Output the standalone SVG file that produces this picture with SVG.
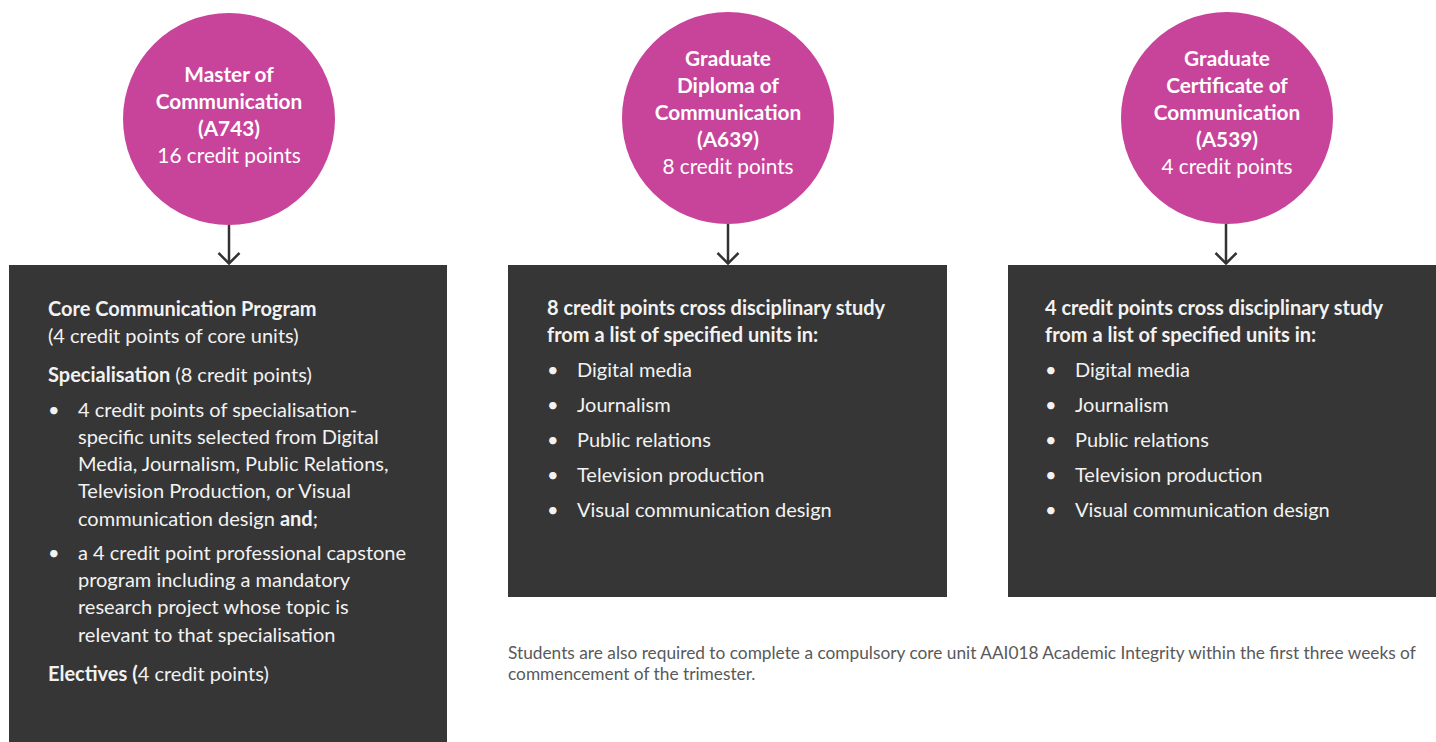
<svg xmlns="http://www.w3.org/2000/svg" width="1436" height="742" viewBox="0 0 1436 742">
<defs>
<marker id="chev" viewBox="0 0 14 24" refX="12.5" refY="12" markerWidth="14" markerHeight="24" markerUnits="userSpaceOnUse" orient="auto">
<path d="M1.5,1.5 L12,12 L1.5,22.5" fill="none" stroke="#333333" stroke-width="2.5"/>
</marker>
<style>
.circ{fill:#C8449A}
.box{fill:#363636}
.ct{font-family:Lato,"Liberation Sans",sans-serif;font-size:20.8px;fill:#ffffff;text-anchor:middle}
.b{font-weight:bold}
.bt{font-family:Lato,"Liberation Sans",sans-serif;font-size:20px;fill:#f2f2f2}
.foot{font-family:Lato,"Liberation Sans",sans-serif;font-size:17.3px;fill:#595959}
.conn{stroke:#333333;stroke-width:2.5;fill:none}
</style>
</defs>
<rect width="1436" height="742" fill="#ffffff"/>
<g id="connectors">
<line class="conn" x1="229" y1="225" x2="229" y2="264" marker-end="url(#chev)"/>
<line class="conn" x1="728" y1="224" x2="728" y2="264" marker-end="url(#chev)"/>
<line class="conn" x1="1226" y1="224" x2="1226" y2="264" marker-end="url(#chev)"/>
</g>
<g id="master">
<circle class="circ" cx="229" cy="119" r="106"/>
<text class="ct b" x="229" y="82">Master of</text>
<text class="ct b" x="229" y="109">Communication</text>
<text class="ct b" x="229" y="136">(A743)</text>
<text class="ct" x="229" y="163">16 credit points</text>
</g>
<g id="diploma">
<circle class="circ" cx="728" cy="118" r="106"/>
<text class="ct b" x="728" y="66">Graduate</text>
<text class="ct b" x="728" y="93">Diploma of</text>
<text class="ct b" x="728" y="120">Communication</text>
<text class="ct b" x="728" y="147">(A639)</text>
<text class="ct" x="728" y="174">8 credit points</text>
</g>
<g id="certificate">
<circle class="circ" cx="1227" cy="118" r="106"/>
<text class="ct b" x="1227" y="66">Graduate</text>
<text class="ct b" x="1227" y="93">Certificate of</text>
<text class="ct b" x="1227" y="120">Communication</text>
<text class="ct b" x="1227" y="147">(A539)</text>
<text class="ct" x="1227" y="174">4 credit points</text>
</g>
<g id="master-box">
<rect class="box" x="9" y="265" width="438" height="477"/>
<text class="bt b" x="48" y="316">Core Communication Program</text>
<text class="bt" x="48" y="343">(4 credit points of core units)</text>
<text class="bt" x="48" y="382"><tspan class="b">Specialisation</tspan> (8 credit points)</text>
<text class="bt" x="48" y="417">•</text>
<text class="bt" x="78" y="417">4 credit points of specialisation-</text>
<text class="bt" x="78" y="444">specific units selected from Digital</text>
<text class="bt" x="78" y="471">Media, Journalism, Public Relations,</text>
<text class="bt" x="78" y="498">Television Production, or Visual</text>
<text class="bt" x="78" y="526">communication design <tspan class="b">and</tspan>;</text>
<text class="bt" x="48" y="560">•</text>
<text class="bt" x="78" y="560">a 4 credit point professional capstone</text>
<text class="bt" x="78" y="587">program including a mandatory</text>
<text class="bt" x="78" y="614">research project whose topic is</text>
<text class="bt" x="78" y="642">relevant to that specialisation</text>
<text class="bt" x="48" y="681"><tspan class="b">Electives (</tspan>4 credit points)</text>
</g>
<g id="diploma-box">
<rect class="box" x="508" y="265" width="439" height="332"/>
<text class="bt b" x="547" y="315">8 credit points cross disciplinary study</text>
<text class="bt b" x="547" y="342">from a list of specified units in:</text>
<text class="bt" x="547" y="377">•</text><text class="bt" x="577" y="377">Digital media</text>
<text class="bt" x="547" y="412">•</text><text class="bt" x="577" y="412">Journalism</text>
<text class="bt" x="547" y="447">•</text><text class="bt" x="577" y="447">Public relations</text>
<text class="bt" x="547" y="482">•</text><text class="bt" x="577" y="482">Television production</text>
<text class="bt" x="547" y="517">•</text><text class="bt" x="577" y="517">Visual communication design</text>
</g>
<g id="certificate-box">
<rect class="box" x="1008" y="265" width="428" height="332"/>
<text class="bt b" x="1045" y="315">4 credit points cross disciplinary study</text>
<text class="bt b" x="1045" y="342">from a list of specified units in:</text>
<text class="bt" x="1045" y="377">•</text><text class="bt" x="1075" y="377">Digital media</text>
<text class="bt" x="1045" y="412">•</text><text class="bt" x="1075" y="412">Journalism</text>
<text class="bt" x="1045" y="447">•</text><text class="bt" x="1075" y="447">Public relations</text>
<text class="bt" x="1045" y="482">•</text><text class="bt" x="1075" y="482">Television production</text>
<text class="bt" x="1045" y="517">•</text><text class="bt" x="1075" y="517">Visual communication design</text>
</g>
<g id="note">
<text class="foot" x="508" y="659">Students are also required to complete a compulsory core unit AAI018 Academic Integrity within the first three weeks of</text>
<text class="foot" x="508" y="680">commencement of the trimester.</text>
</g>
</svg>
